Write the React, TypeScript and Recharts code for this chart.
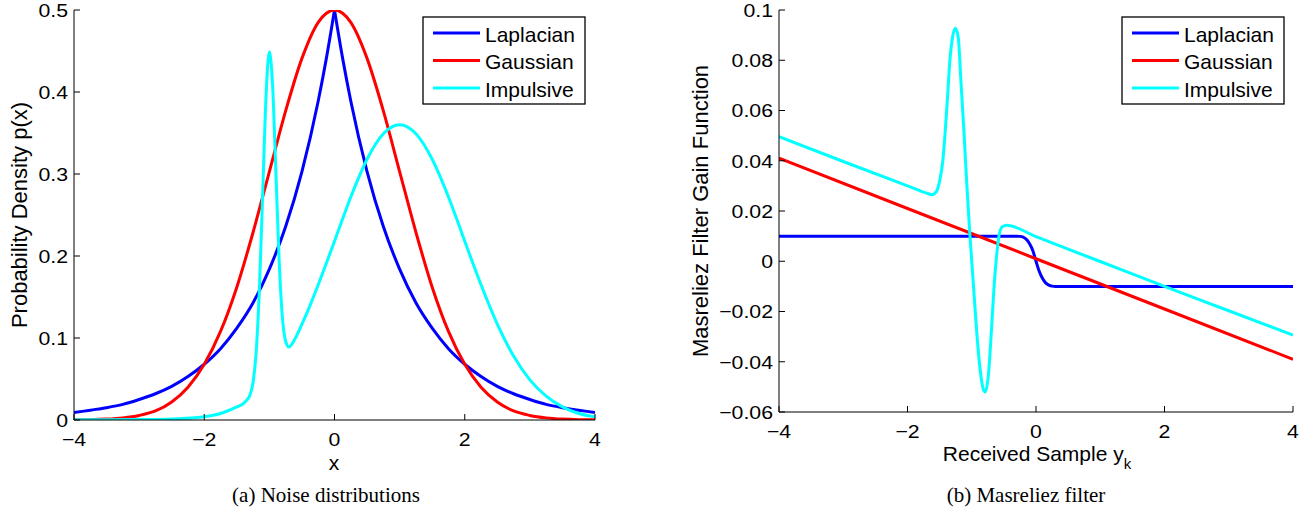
import React from "react";
import { Line, LineChart, XAxis, YAxis } from "recharts";

// ---- panel (a): noise densities ----
const densityX = [
  -4, -3.75, -3.5, -3.25, -3, -2.75, -2.5, -2.25, -2, -1.75, -1.5, -1.25, -1,
  -0.75, -0.5, -0.25, -0.125, 0, 0.125, 0.25, 0.5, 0.75, 1, 1.25, 1.5, 1.75, 2,
  2.25, 2.5, 2.75, 3, 3.25, 3.5, 3.75, 4,
];
const laplacianDensity = [
  0.009, 0.012, 0.015, 0.019, 0.025, 0.032, 0.041, 0.053, 0.068, 0.087, 0.112,
  0.143, 0.184, 0.236, 0.303, 0.389, 0.441, 0.5, 0.441, 0.389, 0.303, 0.236,
  0.184, 0.143, 0.112, 0.087, 0.068, 0.053, 0.041, 0.032, 0.025, 0.019, 0.015,
  0.012, 0.009,
];
const gaussianDensity = [
  0.0002, 0.0004, 0.0011, 0.0026, 0.0056, 0.011, 0.022, 0.04, 0.068, 0.108,
  0.162, 0.229, 0.303, 0.377, 0.441, 0.485, 0.496, 0.5, 0.496, 0.485, 0.441,
  0.377, 0.303, 0.229, 0.162, 0.108, 0.068, 0.04, 0.022, 0.011, 0.0056, 0.0026,
  0.0011, 0.0004, 0.0002,
];
const impulsiveX = [
  -4, -3.5, -3, -2.5, -2, -1.75, -1.5, -1.4, -1.35, -1.3, -1.25, -1.2, -1.15,
  -1.1, -1.05, -1, -0.95, -0.9, -0.85, -0.8, -0.75, -0.7, -0.65, -0.6, -0.5,
  -0.4, -0.25, 0, 0.25, 0.5, 0.75, 1, 1.25, 1.5, 1.75, 2, 2.25, 2.5, 2.75, 3,
  3.25, 3.5, 3.75, 4,
];
const impulsiveDensity = [
  0.0002, 0.0003, 0.0006, 0.0013, 0.004, 0.008, 0.016, 0.02, 0.024, 0.03,
  0.046, 0.086, 0.166, 0.283, 0.397, 0.449, 0.407, 0.302, 0.195, 0.125, 0.096,
  0.089, 0.093, 0.1, 0.117, 0.135, 0.165, 0.218, 0.272, 0.318, 0.349, 0.36,
  0.349, 0.318, 0.272, 0.218, 0.165, 0.117, 0.078, 0.049, 0.029, 0.016, 0.008,
  0.004,
];

// ---- panel (b): Masreliez gain ----
const gaussianGainX = [-4, 0, 4];
const gaussianGain = [0.041, 0.001, -0.039];
const laplacianGainX = [
  -4, -0.35, -0.25, -0.2, -0.15, -0.1, -0.05, 0, 0.05, 0.1, 0.15, 0.2, 0.25,
  0.3, 4,
];
const laplacianGain = [
  0.01, 0.01, 0.0099, 0.0096, 0.0087, 0.007, 0.0043, 0, -0.004, -0.0068,
  -0.0086, -0.0095, -0.0099, -0.01, -0.01,
];
const impulsiveGainX = [
  -4, -3, -2, -1.7, -1.62, -1.55, -1.5, -1.45, -1.415, -1.38, -1.34, -1.3,
  -1.255, -1.21, -1.167, -1.12, -1.08, -1.03, -0.975, -0.92, -0.87, -0.82,
  -0.79, -0.74, -0.69, -0.65, -0.61, -0.57, -0.52, -0.46, 0, 1, 2, 3, 4,
];
const impulsiveGain = [
  0.0496, 0.0397, 0.03, 0.0271, 0.0265, 0.0277, 0.032, 0.04, 0.051, 0.064,
  0.08, 0.089, 0.0927, 0.089, 0.071, 0.051, 0.032, 0.011, -0.009, -0.029,
  -0.043, -0.051, -0.052, -0.045, -0.026, -0.009, 0.003, 0.011, 0.0138, 0.0143,
  0.0098, -0.0001, -0.01, -0.0197, -0.0294,
];

const xTicks = [-4, -2, 0, 2, 4];
const densityTicks = [0, 0.1, 0.2, 0.3, 0.4, 0.5];
const gainTicks = [-0.06, -0.04, -0.02, 0, 0.02, 0.04, 0.06, 0.08, 0.1];

const legendLabels = ["Laplacian", "Gaussian", "Impulsive"];
const COLORS = ["#0000ff", "#ff0000", "#00ffff"];

const SANS = "'Liberation Sans', Arial, Helvetica, sans-serif";
const SERIF = "'Liberation Serif', 'Times New Roman', serif";

const pts = (xs: number[], ys: number[]) => xs.map((x, i) => ({ x, y: ys[i] }));
const fmt = (v: number) => String(v).replace("-", "\u2212");

const XTick = ({ x, y, payload }: any) => (
  <text
    transform={`translate(${x},${y}) scale(1.12,1)`}
    textAnchor="middle"
    dy="0.71em"
    fontSize={19}
    fontFamily={SANS}
    fill="#000"
  >
    {fmt(payload.value)}
  </text>
);

const YTick = ({ x, y, payload }: any) => (
  <text
    transform={`translate(${x},${y}) scale(1.12,1)`}
    textAnchor="end"
    dy="0.355em"
    fontSize={19}
    fontFamily={SANS}
    fill="#000"
  >
    {fmt(payload.value)}
  </text>
);

const NoTick = () => <g />;

interface Series {
  key: string;
  color: string;
  data: { x: number; y: number }[];
}

interface PanelProps {
  width: number;
  margin: { top: number; right: number; bottom: number; left: number };
  yWidth: number;
  yTicks: number[];
  yDomain: [number, number];
  series: Series[];
}

const Panel = ({ width, margin, yWidth, yTicks, yDomain, series }: PanelProps) => (
  <LineChart width={width} height={515} margin={margin}>
    <XAxis
      xAxisId="b"
      type="number"
      dataKey="x"
      domain={[-4, 4]}
      ticks={xTicks}
      allowDataOverflow
      height={30}
      stroke="#000"
      tickSize={-6}
      tickMargin={19}
      tick={<XTick />}
    />
    <XAxis
      xAxisId="t"
      orientation="top"
      type="number"
      dataKey="x"
      domain={[-4, 4]}
      ticks={xTicks}
      allowDataOverflow
      height={0}
      stroke="#000"
      tickSize={-6}
      tick={<NoTick />}
    />
    <YAxis
      yAxisId="l"
      type="number"
      domain={yDomain}
      ticks={yTicks}
      allowDataOverflow
      width={yWidth}
      stroke="#000"
      tickSize={-6}
      tickMargin={12}
      tick={<YTick />}
    />
    <YAxis
      yAxisId="r"
      orientation="right"
      type="number"
      domain={yDomain}
      ticks={yTicks}
      allowDataOverflow
      width={0}
      stroke="#000"
      tickSize={-6}
      tick={<NoTick />}
    />
    {series.map((s) => (
      <Line
        key={s.key}
        xAxisId="b"
        yAxisId="l"
        data={s.data}
        dataKey="y"
        type="monotone"
        stroke={s.color}
        strokeWidth={3}
        dot={false}
        isAnimationActive={false}
      />
    ))}
  </LineChart>
);

const LegendBox = ({ x, y }: { x: number; y: number }) => (
  <g>
    <rect x={x} y={y} width={162} height={87} fill="#fff" stroke="#000" strokeWidth={1.3} />
    {legendLabels.map((label, i) => (
      <g key={label}>
        <line
          x1={x + 10}
          x2={x + 57}
          y1={y + 16 + i * 27.5}
          y2={y + 16 + i * 27.5}
          stroke={COLORS[i]}
          strokeWidth={3}
        />
        <text x={x + 62} y={y + 24.5 + i * 27.5} fontSize={21} fontFamily={SANS}>
          {label}
        </text>
      </g>
    ))}
  </g>
);

export default function App() {
  const lapPts = pts(densityX, laplacianDensity);
  const densitySeries: Series[] = [
    { key: "lapL", color: COLORS[0], data: lapPts.filter((p) => p.x <= 0) },
    { key: "lapR", color: COLORS[0], data: lapPts.filter((p) => p.x >= 0) },
    { key: "gau", color: COLORS[1], data: pts(densityX, gaussianDensity) },
    { key: "imp", color: COLORS[2], data: pts(impulsiveX, impulsiveDensity) },
  ];
  const gainSeries: Series[] = [
    { key: "lap", color: COLORS[0], data: pts(laplacianGainX, laplacianGain) },
    { key: "gau", color: COLORS[1], data: pts(gaussianGainX, gaussianGain) },
    { key: "imp", color: COLORS[2], data: pts(impulsiveGainX, impulsiveGain) },
  ];

  return (
    <div style={{ position: "absolute", left: 0, top: 0, width: 1313, height: 515, background: "#fff" }}>
      <div style={{ position: "absolute", left: 0, top: 0 }}>
        <Panel
          width={660}
          margin={{ top: 10, right: 65, bottom: 65, left: 0 }}
          yWidth={74}
          yTicks={densityTicks}
          yDomain={[0, 0.5]}
          series={densitySeries}
        />
      </div>
      <div style={{ position: "absolute", left: 660, top: 0 }}>
        <Panel
          width={653}
          margin={{ top: 10, right: 20, bottom: 73, left: 0 }}
          yWidth={119}
          yTicks={gainTicks}
          yDomain={[-0.06, 0.1]}
          series={gainSeries}
        />
      </div>
      <svg
        width={1313}
        height={515}
        style={{ position: "absolute", left: 0, top: 0, pointerEvents: "none" }}
      >
        <LegendBox x={423} y={17} />
        <LegendBox x={1122} y={17} />
        <text x={334} y={470} textAnchor="middle" fontSize={21} fontFamily={SANS}>
          x
        </text>
        <text x={1037} y={461} textAnchor="middle" fontSize={21} fontFamily={SANS}>
          Received Sample y
          <tspan fontSize={15} dy={8}>k</tspan>
        </text>
        <text
          x={27}
          y={215}
          transform="rotate(-90 27 215)"
          textAnchor="middle"
          fontSize={22}
          fontFamily={SANS}
        >
          Probability Density p(x)
        </text>
        <text
          x={708}
          y={211}
          transform="rotate(-90 708 211)"
          textAnchor="middle"
          fontSize={22}
          fontFamily={SANS}
        >
          Masreliez Filter Gain Function
        </text>
        <text x={326} y={502} textAnchor="middle" fontSize={21} fontFamily={SERIF}>
          (a) Noise distributions
        </text>
        <text x={1026} y={502} textAnchor="middle" fontSize={21} fontFamily={SERIF}>
          (b) Masreliez filter
        </text>
      </svg>
    </div>
  );
}
